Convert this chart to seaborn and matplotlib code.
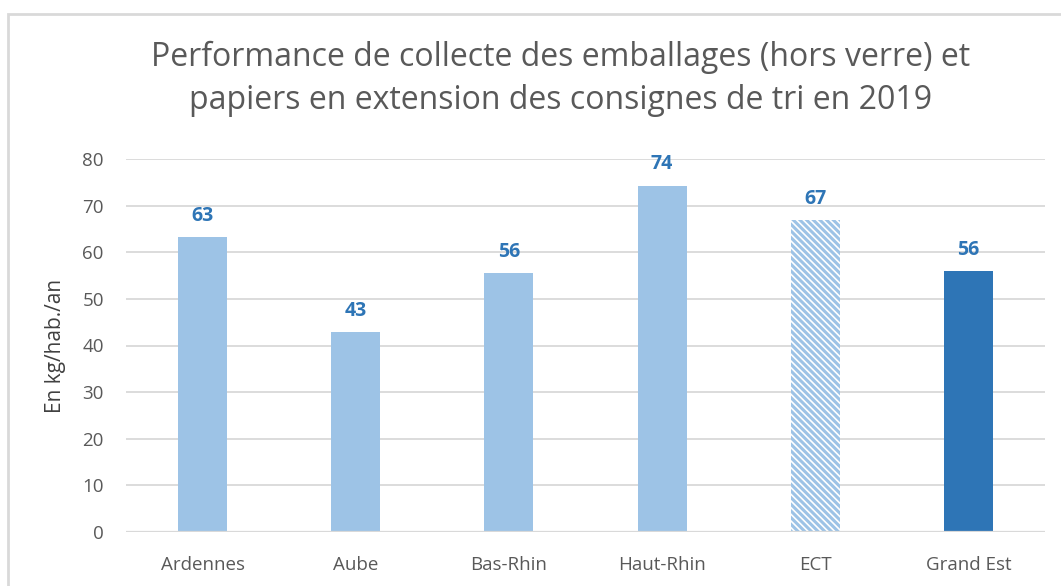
import matplotlib
matplotlib.use("Agg")
import matplotlib.pyplot as plt
import seaborn as sns
import pandas as pd
from matplotlib.patches import Rectangle

categories = ["Ardennes", "Aube", "Bas-Rhin", "Haut-Rhin", "ECT", "Grand Est"]
values = [63.3, 42.9, 55.6, 74.3, 66.9, 55.9]
yticks = [0, 10, 20, 30, 40, 50, 60, 70, 80]

light = "#9DC3E6"
dark = "#2E75B6"
text_gray = "#595959"

sns.set_theme(style="white")
plt.rcParams["font.family"] = ["Open Sans", "DejaVu Sans"]
plt.rcParams["hatch.linewidth"] = 2.2

df = pd.DataFrame({"cat": categories, "val": values})

fig = plt.figure(figsize=(10.61, 5.86), dpi=100)
ax = fig.add_axes([126 / 1061, 1 - 532 / 586, (1045 - 126) / 1061, (532 - 159) / 586])

palette = [light, light, light, light, light, dark]
sns.barplot(data=df, x="cat", y="val", hue="cat", palette=palette, legend=False,
            width=0.32, ax=ax, saturation=1, zorder=3)

for i, p in enumerate(ax.patches):
    p.set_linewidth(0)
    if categories[i] == "ECT":
        p.set_facecolor("white")
        p.set_edgecolor(light)
        p.set_hatch("\\\\\\\\\\")
    ax.annotate(f"{round(values[i])}", (p.get_x() + p.get_width() / 2, p.get_height()),
                xytext=(0, 8), textcoords="offset points", ha="center", va="bottom",
                fontsize=14, fontweight="bold", color=dark)

ax.set_ylim(0, 80)
ax.set_yticks(yticks)
ax.set_xlim(-0.5, 5.5)
ax.yaxis.grid(True, color="#D9D9D9", linewidth=1.3, zorder=0)
for s in ["top", "right", "left", "bottom"]:
    ax.spines[s].set_visible(False)
ax.axhline(0, color="#D9D9D9", linewidth=1.6, zorder=4)
ax.tick_params(axis="both", length=0, labelsize=13.5, labelcolor=text_gray)
ax.tick_params(axis="x", pad=17)
ax.tick_params(axis="y", pad=16)
ax.set_xlabel("")
ax.set_ylabel("En kg/hab./an", fontsize=15, color="#404040", labelpad=12)

fig.text(0.528, 1 - 79 / 586,
         "Performance de collecte des emballages (hors verre) et\npapiers en extension des consignes de tri en 2019",
         ha="center", va="center", fontsize=23, color=text_gray, linespacing=1.4)

fig.patches.append(Rectangle((8 / 1061, -0.1), 1.2, 1.1 - 14 / 586, transform=fig.transFigure,
                             fill=False, edgecolor="#D9D9D9", linewidth=2, figure=fig))

fig.savefig("out.png", dpi=100)
